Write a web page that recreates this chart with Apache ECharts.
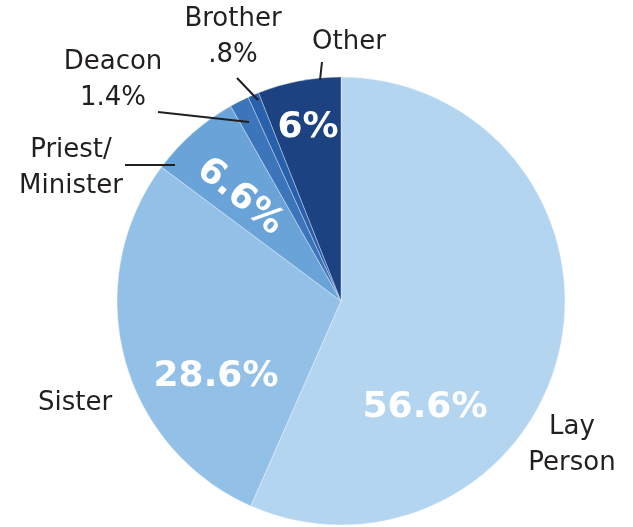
<!DOCTYPE html>
<html>
<head>
<meta charset="utf-8">
<script src="https://cdn.jsdelivr.net/npm/echarts@6.0.0/dist/echarts.min.js"></script>
<style>
  html, body { margin: 0; padding: 0; background: #fff; }
  #chart { width: 633px; height: 527px; }
</style>
</head>
<body>
<div id="chart"></div>
<script>
// data, clockwise from 12 o'clock
const categories = ['Lay Person', 'Sister', 'Priest/Minister', 'Deacon', 'Brother', 'Other']
const values = [56.6, 28.6, 6.6, 1.4, 0.8, 6]
const valueLabels = ['56.6%', '28.6%', '6.6%', '1.4%', '.8%', '6%']
const outerLabels = ['Lay\nPerson', 'Sister', 'Priest/\nMinister', 'Deacon\n1.4%', 'Brother\n.8%', 'Other']
const colors = ['#b3d5f0', '#93c0e7', '#6aa3d7', '#3d75bb', '#2860ab', '#1d4281']

// label placement (styling only)
const insidePos = [[425, 408], [216, 377], [240, 197], null, null, [308, 128]]
const insideRot = [0, 0, -39, 0, 0, 0]
const outerPos = [[572, 445], [75, 403], [71, 168], [113, 80], [233, 37], [349, 42]]
const linePts = [
  null,
  null,
  [[125, 165], [175, 165]],
  [[158, 112], [249, 122]],
  [[237, 78], [258, 100]],
  [[322, 62], [320, 80]]
]

const chart = echarts.init(document.getElementById('chart'))

const CENTER = [341, 301]
const RADIUS = 224

chart.setOption({
  backgroundColor: '#fff',
  animation: false,
  series: [
    // slices + white percentages
    {
      type: 'pie',
      center: CENTER,
      radius: RADIUS,
      startAngle: 90,
      clockwise: true,
      avoidLabelOverlap: false,
      silent: true,
      itemStyle: {
        borderColor: 'rgba(255,255,255,0.35)',
        borderWidth: 1
      },
      label: {
        position: 'inside',
        color: '#fff',
        fontFamily: 'DejaVu Sans',
        fontWeight: 'bold',
        fontSize: 36
      },
      labelLine: { show: false },
      labelLayout: p => {
        const pos = insidePos[p.dataIndex]
        if (!pos) return {}
        return { x: pos[0], y: pos[1], align: 'center', verticalAlign: 'middle', rotate: insideRot[p.dataIndex] }
      },
      data: categories.map((name, i) => ({
        name,
        value: values[i],
        itemStyle: { color: colors[i] },
        label: { show: insidePos[i] != null, formatter: valueLabels[i] }
      }))
    },
    // outer category labels
    {
      type: 'pie',
      center: CENTER,
      radius: RADIUS,
      startAngle: 90,
      clockwise: true,
      avoidLabelOverlap: false,
      silent: true,
      z: 3,
      itemStyle: { color: 'transparent' },
      label: {
        position: 'outside',
        color: '#231f20',
        fontFamily: 'DejaVu Sans',
        fontSize: 26,
        lineHeight: 36,
        align: 'center'
      },
      labelLine: {
        lineStyle: { color: '#231f20', width: 2 }
      },
      labelLayout: p => {
        const i = p.dataIndex
        const res = { x: outerPos[i][0], y: outerPos[i][1], align: 'center', verticalAlign: 'middle' }
        if (linePts[i]) res.labelLinePoints = linePts[i]
        return res
      },
      data: categories.map((name, i) => ({
        name,
        value: values[i],
        label: { formatter: outerLabels[i] },
        labelLine: { show: linePts[i] != null }
      }))
    }
  ]
})
</script>
</body>
</html>
